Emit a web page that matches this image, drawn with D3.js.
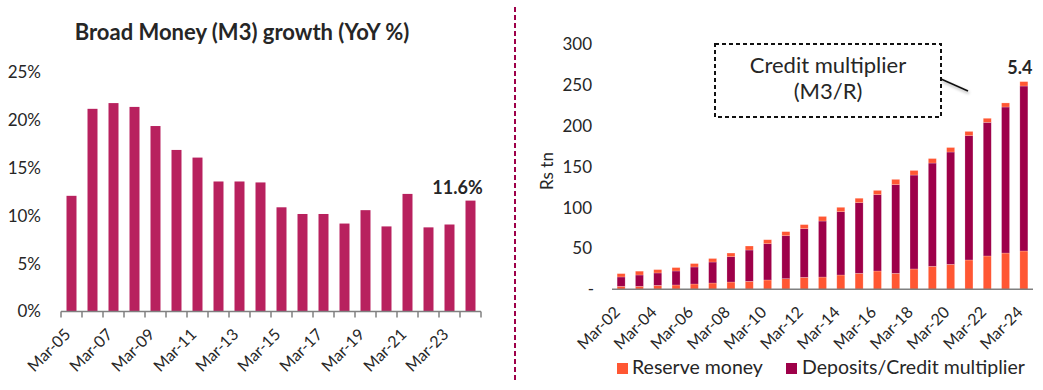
<!DOCTYPE html>
<html><head><meta charset="utf-8">
<script src="https://cdn.jsdelivr.net/npm/d3@7"></script>
<style>
body{margin:0;background:#fff}
svg{display:block}
text{font-family:Lato,'Open Sans',sans-serif;fill:#262626}
</style>
</head><body>
<svg id="c" width="1043" height="390"></svg>
<script>
// ---------- data ----------
const growthCats = ["Mar-05","Mar-06","Mar-07","Mar-08","Mar-09","Mar-10","Mar-11","Mar-12","Mar-13","Mar-14",
  "Mar-15","Mar-16","Mar-17","Mar-18","Mar-19","Mar-20","Mar-21","Mar-22","Mar-23","Mar-24"];
const growthValues = [12.1,21.2,21.8,21.4,19.4,16.9,16.1,13.6,13.6,13.5,10.9,10.2,10.2,9.2,10.6,8.9,12.3,8.8,9.1,11.6];
const growthTicks = [0,5,10,15,20,25];

const stackCats = ["Mar-02","Mar-03","Mar-04","Mar-05","Mar-06","Mar-07","Mar-08","Mar-09","Mar-10","Mar-11","Mar-12",
  "Mar-13","Mar-14","Mar-15","Mar-16","Mar-17","Mar-18","Mar-19","Mar-20","Mar-21","Mar-22","Mar-23","Mar-24"];
const reserveMoney = [3.7,3.7,4.9,5.3,6.5,7.7,8.9,9.8,11.4,13.0,14.7,15.0,17.5,19.6,22.4,19.6,24.9,28.2,30.6,35.9,40.8,44.4,46.9];
const deposits = [11.4,13.8,15.1,17.1,20.8,25.7,31.0,38.3,44.4,52.6,59.5,68.6,77.5,86.5,93.5,108.5,115.0,126.4,137.5,152.2,163.6,178.8,202.0];
const multiplier = [4.1,4.7,4.1,4.2,4.2,4.3,4.5,4.9,4.9,5.0,5.0,5.6,5.4,5.4,5.2,6.5,5.6,5.5,5.5,5.2,5.0,5.0,5.4];
const stackTicks = [0,50,100,150,200,250,300];

const C_LEFT = "#B8215E", C_DEP = "#9E0049", C_RES = "#FF5733", AXIS = "#808080";

const svg = d3.select("#c");
const defs = svg.append("defs");
const f = defs.append("filter").attr("id","sh").attr("x","-50%").attr("y","-50%").attr("width","200%").attr("height","200%");
f.append("feDropShadow").attr("dx",1).attr("dy",2).attr("stdDeviation",1.5).attr("flood-color","#000").attr("flood-opacity",0.35);

// ---------- left chart ----------
const xL = d3.scaleBand().domain(growthCats).range([61,481]).paddingInner(0.524).paddingOuter(0.262);
const yL = d3.scaleLinear().domain([0,25]).range([311.5,72.5]);

svg.append("text").attr("x",242).attr("y",40).attr("text-anchor","middle")
  .style("font-size","22px").style("font-weight","700").text("Broad Money (M3) growth (YoY %)");

const gL = svg.append("g");
gL.selectAll("rect").data(growthValues).join("rect")
  .attr("x",(d,i)=>xL(growthCats[i])).attr("width",xL.bandwidth())
  .attr("y",d=>yL(d)).attr("height",d=>yL(0)-yL(d)).attr("fill",C_LEFT);

// y labels
gL.selectAll("text.yt").data(growthTicks).join("text").attr("class","yt")
  .attr("x",41).attr("y",d=>yL(d)).attr("dy","0.35em").attr("text-anchor","end")
  .style("font-size","17px").text(d=>d+"%");

// x axis line + ticks at band boundaries
const stepL = xL.step();
gL.append("line").attr("x1",61).attr("x2",481).attr("y1",yL(0)).attr("y2",yL(0))
  .attr("stroke",AXIS).attr("stroke-width",1.5);
const bounds = growthCats.map(c=>xL(c)-stepL*0.262).concat([481]);
gL.selectAll("line.tk").data(bounds).join("line").attr("class","tk")
  .attr("x1",d=>d).attr("x2",d=>d).attr("y1",yL(0)).attr("y2",yL(0)+6)
  .attr("stroke",AXIS).attr("stroke-width",1.5);
gL.selectAll("text.xt").data(growthCats.filter((c,i)=>i%2===0)).join("text").attr("class","xt")
  .attr("transform",d=>`translate(${xL(d)+xL.bandwidth()/2},${yL(0)+24}) rotate(-45)`)
  .attr("text-anchor","end").style("font-size","16px").text(d=>d);

// last value label
const lastL = growthCats[growthCats.length-1];
gL.append("text").attr("x",xL(lastL)+xL.bandwidth()/2-13).attr("y",yL(growthValues[growthValues.length-1])-7)
  .attr("text-anchor","middle").style("font-size","18px").style("font-weight","700")
  .text(growthValues[growthValues.length-1].toFixed(1)+"%");

// ---------- separator ----------
svg.append("line").attr("x1",515).attr("x2",515).attr("y1",7).attr("y2",381)
  .attr("stroke",C_DEP).attr("stroke-width",2).attr("stroke-dasharray","5,3");

// ---------- right chart ----------
const xR = d3.scaleBand().domain(stackCats).range([612,1033]).paddingInner(0.563).paddingOuter(0.28);
const yR = d3.scaleLinear().domain([0,300]).range([289.3,44.3]);

const table = stackCats.map((c,i)=>({cat:c, reserve:reserveMoney[i], deposits:deposits[i], mult:multiplier[i]}));
const keys = ["reserve","deposits","mult"];
const colors = {reserve:C_RES, deposits:C_DEP, mult:C_RES};
const series = d3.stack().keys(keys)(table);

const gR = svg.append("g");
gR.selectAll("g.s").data(series).join("g").attr("class","s").attr("fill",d=>colors[d.key])
  .selectAll("rect").data(d=>d).join("rect")
  .attr("x",d=>xR(d.data.cat)).attr("width",xR.bandwidth())
  .attr("y",d=>yR(d[1])).attr("height",d=>yR(d[0])-yR(d[1]))
  .attr("stroke","#fff").attr("stroke-opacity",0.35).attr("stroke-width",0.6);

gR.append("line").attr("x1",612).attr("x2",1033).attr("y1",yR(0)).attr("y2",yR(0))
  .attr("stroke",AXIS).attr("stroke-width",1.5);

gR.selectAll("text.yt").data(stackTicks).join("text").attr("class","yt")
  .attr("x",d=>d===0?594:592).attr("y",d=>yR(d)).attr("dy","0.35em").attr("text-anchor","end")
  .style("font-size","17px").text(d=>d===0?"-":d);

gR.append("text").attr("transform",`translate(553,171) rotate(-90)`).attr("text-anchor","middle")
  .style("font-size","17px").text("Rs tn");

gR.selectAll("text.xt").data(stackCats.filter((c,i)=>i%2===0)).join("text").attr("class","xt")
  .attr("transform",d=>`translate(${xR(d)+xR.bandwidth()/2},${yR(0)+24}) rotate(-45)`)
  .attr("text-anchor","end").style("font-size","16px").text(d=>d);

// last multiplier label
const lastTop = series[2][series[2].length-1][1];
gR.append("text").attr("x",xR(stackCats[stackCats.length-1])+xR.bandwidth()/2-4).attr("y",yR(lastTop)-8)
  .attr("text-anchor","middle").style("font-size","18px").style("font-weight","700")
  .text(multiplier[multiplier.length-1].toFixed(1));

// annotation box
gR.append("rect").attr("x",715).attr("y",44).attr("width",226).attr("height",73)
  .attr("fill","#fff").attr("stroke","#111").attr("stroke-width",2).attr("stroke-dasharray","4,3");
gR.append("text").attr("x",828).attr("y",73).attr("text-anchor","middle").style("font-size","22px").text("Credit multiplier");
gR.append("text").attr("x",828).attr("y",99).attr("text-anchor","middle").style("font-size","22px").text("(M3/R)");
gR.append("line").attr("x1",941).attr("y1",79).attr("x2",968).attr("y2",91)
  .attr("stroke","#111").attr("stroke-width",1.5).attr("filter","url(#sh)");

// legend
const leg = svg.append("g");
leg.append("rect").attr("x",617).attr("y",363).attr("width",11).attr("height",11).attr("fill",C_RES);
leg.append("text").attr("x",632).attr("y",374).style("font-size","19.5px").text("Reserve money");
leg.append("rect").attr("x",786).attr("y",363).attr("width",11).attr("height",11).attr("fill",C_DEP);
leg.append("text").attr("x",802).attr("y",374).style("font-size","19.5px").text("Deposits/Credit multiplier");
</script>
</body></html>
